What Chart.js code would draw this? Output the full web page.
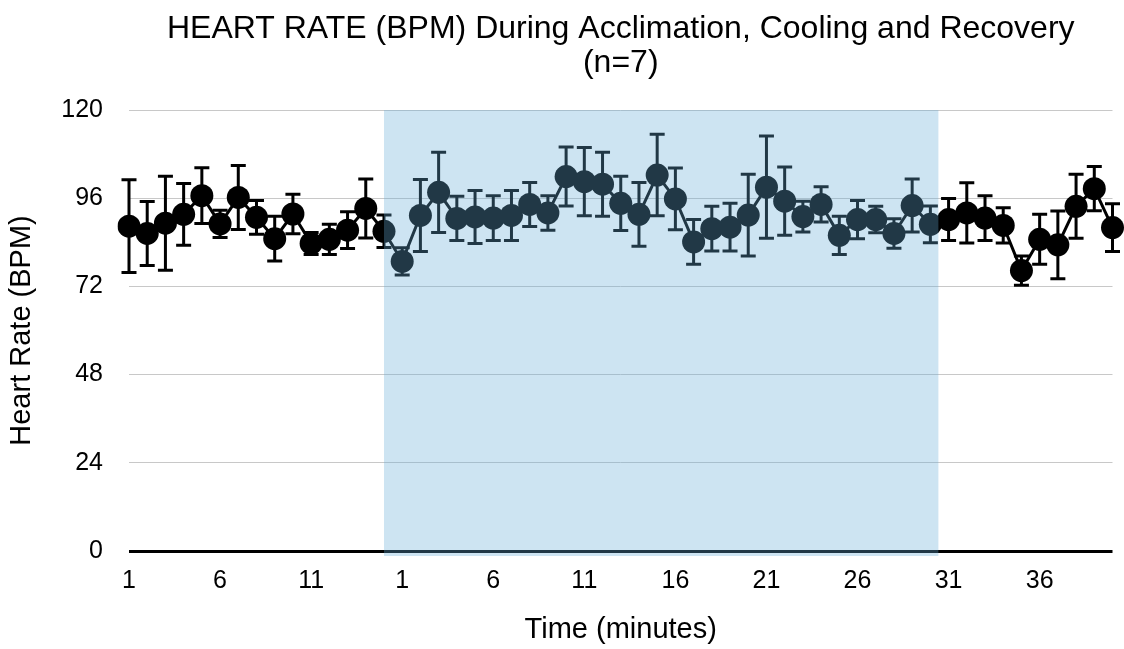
<!DOCTYPE html>
<html><head><meta charset="utf-8">
<script src="https://cdn.jsdelivr.net/npm/chart.js@4"></script>
<style>html,body{margin:0;padding:0;background:#fff}#wrap{width:1124px;height:649px;position:relative}</style>
</head><body><div id="wrap"><canvas id="c"></canvas></div>
<script>
// Tick labels (minutes) for each phase
const acclimationLabels = ['1','2','3','4','5','6','7','8','9','10','11','12','13','14','15'];
const coolingRecoveryLabels = ['1','2','3','4','5','6','7','8','9','10','11','12','13','14','15','16','17','18','19','20',
  '21','22','23','24','25','26','27','28','29','30','31','32','33','34','35','36','37','38','39','40'];

// Mean heart rate (BPM)
const acclimationHR = [88.4,86.4,89.2,91.6,96.7,89.0,96.2,90.8,85.0,91.7,83.7,84.8,87.3,93.2,87.0];
const coolingHR = [78.8,91.3,97.6,90.5,90.9,90.6,91.3,94.3,92.0,101.9,100.5,99.8,94.6,91.6,102.3,
  95.8,84.1,87.7,88.1,91.4,99.0,95.2,91.0,94.3,85.9,90.2,90.2,86.4,94.0,88.9];
const recoveryHR = [90.2,92.0,90.6,88.6,76.3,84.8,83.3,93.8,98.6,88.0];

// Error (± BPM)
const acclimationErr = [12.6,8.7,12.8,8.4,7.6,3.7,8.7,4.6,6.1,5.4,3.0,4.1,5.0,8.0,4.4];
const coolingErr = [3.7,9.8,10.9,6.0,7.2,6.1,6.8,6.0,4.7,8.0,9.3,8.7,7.4,8.7,11.1,
  8.4,6.1,6.1,6.5,11.1,13.9,9.3,4.2,4.8,5.2,5.2,3.6,4.0,7.2,5.0];
const recoveryErr = [5.7,8.2,6.1,4.8,4.0,6.8,9.2,8.7,6.0,6.5];

// Y axis ticks
const yTicks = [0,24,48,72,96,120];

// Shaded cooling period (category positions)
const coolingBandStart = 14;
const coolingBandEnd = 44.44;

const labels = acclimationLabels.concat(coolingRecoveryLabels);
const heartRate = acclimationHR.concat(coolingHR, recoveryHR);
const errors = acclimationErr.concat(coolingErr, recoveryErr);

const FONT = '"Liberation Sans", Arial, Helvetica, sans-serif';

const errorBarPlugin = {
  id: 'errorBars',
  beforeDatasetsDraw(chart) {
    const {ctx, scales: {x, y}} = chart;
    ctx.save();
    ctx.strokeStyle = '#000';
    ctx.lineWidth = 3;
    heartRate.forEach((v, i) => {
      const px = x.getPixelForValue(i);
      const top = y.getPixelForValue(v + errors[i]);
      const bot = y.getPixelForValue(v - errors[i]);
      ctx.beginPath();
      ctx.moveTo(px, top); ctx.lineTo(px, bot);
      ctx.moveTo(px - 7.5, top); ctx.lineTo(px + 7.5, top);
      ctx.moveTo(px - 7.5, bot); ctx.lineTo(px + 7.5, bot);
      ctx.stroke();
    });
    ctx.restore();
  }
};

const bandPlugin = {
  id: 'coolingBand',
  afterDraw(chart) {
    const {ctx, chartArea, scales: {x}} = chart;
    const x0 = x.getPixelForValue(coolingBandStart);
    const x1 = x.getPixelForValue(coolingBandEnd);
    ctx.save();
    ctx.fillStyle = 'rgba(101,172,215,0.325)';
    ctx.fillRect(x0, chartArea.top, x1 - x0, chartArea.bottom - chartArea.top + 5);
    ctx.restore();
  }
};

new Chart(document.getElementById('c'), {
  type: 'line',
  data: {
    labels: labels,
    datasets: [{
      data: heartRate,
      borderColor: '#000',
      borderWidth: 3,
      backgroundColor: '#000',
      pointBackgroundColor: '#000',
      pointBorderColor: '#000',
      pointBorderWidth: 0,
      pointRadius: 11.5,
      tension: 0,
      fill: false
    }]
  },
  options: {
    responsive: true,
    maintainAspectRatio: false,
    animation: false,
    layout: {padding: {top: 0, right: 11, bottom: 0, left: 0}},
    plugins: {
      legend: {display: false},
      tooltip: {enabled: false},
      title: {
        display: true,
        fullSize: false,
        text: ['HEART RATE (BPM) During Acclimation, Cooling and Recovery', '(n=7)'],
        color: '#000',
        font: {family: FONT, size: 32, weight: 'normal', lineHeight: 34/32},
        padding: {top: 12, bottom: 30}
      }
    },
    scales: {
      x: {
        type: 'category',
        offset: false,
        grid: {display: false, drawTicks: false},
        border: {display: false},
        ticks: {
          autoSkip: false,
          maxRotation: 0,
          color: '#000',
          padding: 15,
          font: {family: FONT, size: 25},
          callback: function(val, idx) { return idx % 5 === 0 ? this.getLabelForValue(val) : ''; }
        },
        title: {
          display: true,
          text: 'Time (minutes)',
          color: '#000',
          font: {family: FONT, size: 29},
          padding: {top: 0, bottom: 2}
        },
        afterFit(scale) { scale.height = 98; scale.paddingRight = 0; scale.paddingLeft = 0; }
      },
      y: {
        min: 0, max: 120,
        border: {display: false},
        grid: {
          drawTicks: false,
          color: (c) => c.tick && c.tick.value === 0 ? '#000' : '#c8c8c8',
          lineWidth: (c) => c.tick && c.tick.value === 0 ? 3 : 1
        },
        afterBuildTicks(scale) { scale.ticks = yTicks.map(v => ({value: v})); },
        ticks: {
          color: '#000',
          padding: 26,
          font: {family: FONT, size: 25}
        },
        title: {
          display: true,
          text: 'Heart Rate (BPM)',
          color: '#000',
          font: {family: FONT, size: 29},
          padding: {top: 5, bottom: 0}
        },
        afterFit(scale) { scale.width = 129; }
      }
    }
  },
  plugins: [errorBarPlugin, bandPlugin]
});
</script>
</body></html>
